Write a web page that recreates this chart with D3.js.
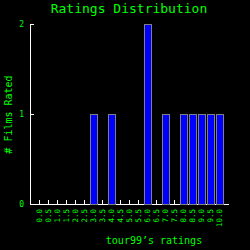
<!DOCTYPE html>
<html>
<head>
<meta charset="utf-8">
<style>
  body { margin: 0; background: #000; }
  svg { display: block; }
  text { font-family: "DejaVu Sans Mono", monospace; fill: #00ff00; }
  .axis path, .axis line { stroke: #fff; }
</style>
</head>
<body>
<svg></svg>
<script src="https://d3js.org/d3.v7.min.js"></script>
<script>
var ratings = ["0.0","0.5","1.0","1.5","2.0","2.5","3.0","3.5","4.0","4.5","5.0",
               "5.5","6.0","6.5","7.0","7.5","8.0","8.5","9.0","9.5","10.0"];
var counts = [0,0,0,0,0,0,1,0,1,0,0,0,2,0,1,0,1,1,1,1,1];
var yTicks = [0, 1, 2];

var svg = d3.select("svg").attr("width", 250).attr("height", 250);
svg.append("rect").attr("width", 250).attr("height", 250).attr("fill", "#000");

var x = d3.scaleBand().domain(ratings).range([35, 224]).padding(0);
var y = d3.scaleLinear().domain([0, 2]).range([204, 24]);

svg.append("text")
    .attr("x", 129).attr("y", 13)
    .attr("text-anchor", "middle")
    .style("font-size", "13px")
    .text("Ratings Distribution");

// y axis
svg.append("g").attr("class", "axis")
    .attr("transform", "translate(30,0)")
    .call(d3.axisLeft(y).tickValues(yTicks).tickFormat(d3.format("d"))
        .tickSize(-4).tickSizeOuter(0).tickPadding(6))
    .call(g => g.selectAll("text").style("font-size", "8px").attr("fill", "#00ff00"));

// x axis (ticks sit under the bars)
var xg = svg.append("g").attr("class", "axis")
    .attr("transform", "translate(0,204)")
    .call(d3.axisBottom(x).tickSize(-4).tickSizeOuter(0).tickPadding(0));
xg.select(".domain").remove();
xg.selectAll("text")
    .style("font-size", "7.5px")
    .attr("fill", "#00ff00")
    .attr("text-anchor", "end")
    .attr("dy", null)
    .attr("transform", "translate(2.5,5) rotate(-90)");
svg.append("line")
    .attr("x1", 30).attr("x2", 229)
    .attr("y1", 204.5).attr("y2", 204.5)
    .attr("stroke", "#fff");

// bars
svg.append("g").selectAll("rect")
    .data(ratings.map((r, i) => ({ r: r, c: counts[i] })).filter(d => d.c > 0))
    .join("rect")
    .attr("x", d => x(d.r) + 1)
    .attr("width", x.bandwidth() - 2)
    .attr("y", d => y(d.c))
    .attr("height", d => y(0) - y(d.c))
    .attr("fill", "#0000ff")
    .attr("stroke", "#808080")
    .attr("stroke-width", 1)
    .attr("shape-rendering", "crispEdges");

svg.append("text")
    .attr("x", 154).attr("y", 244)
    .attr("text-anchor", "middle")
    .style("font-size", "10px")
    .text("tour99\u2019s ratings");

svg.append("text")
    .attr("transform", "translate(12,114.5) rotate(-90)")
    .attr("text-anchor", "middle")
    .style("font-size", "10px")
    .text("# Films Rated");
</script>
</body>
</html>
